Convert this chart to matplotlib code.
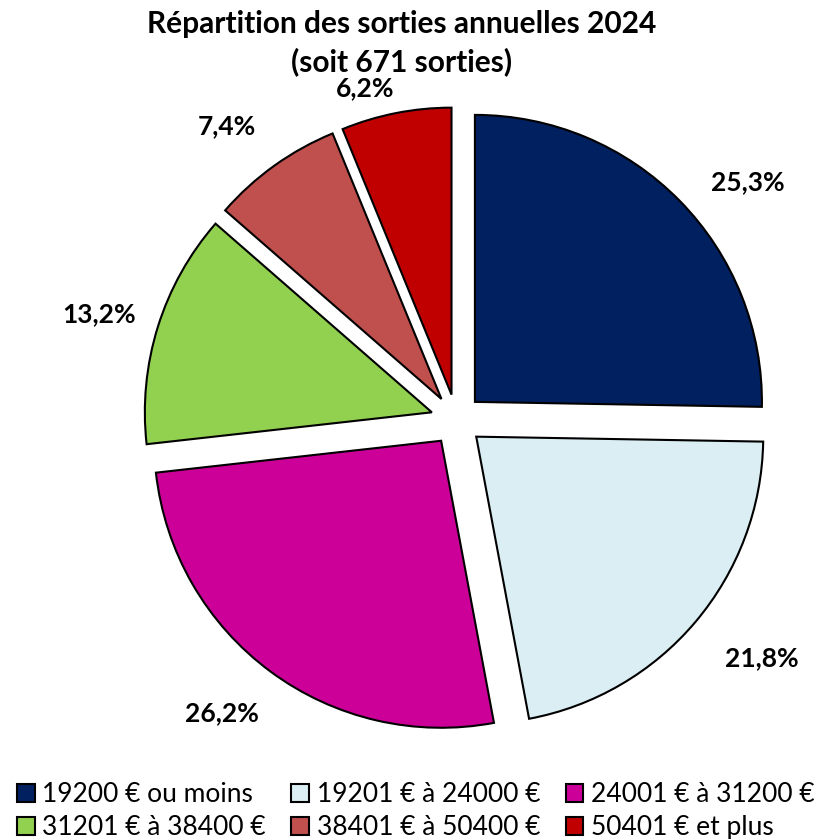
import matplotlib
matplotlib.use("Agg")
import matplotlib.pyplot as plt
import numpy as np
from matplotlib.patches import Patch

plt.rcParams["font.family"] = ["Lato", "DejaVu Sans"]

# data
CATEGORIES = [
    "19200 € ou moins",
    "19201 € à 24000 €",
    "24001 € à 31200 €",
    "31201 € à 38400 €",
    "38401 € à 50400 €",
    "50401 € et plus",
]
SHARES = [25.3, 21.8, 26.2, 13.2, 7.4, 6.2]
COLORS = ["#002060", "#DAEEF3", "#CC0099", "#92D050", "#C0504D", "#C00000"]
TITLE = "Répartition des sorties annuelles 2024\n(soit 671 sorties)"

# label placement tweaks (radius from slice centre, angle shift in degrees)
LABEL_DIST = [1.22, 1.26, 1.22, 1.21, 1.21, 1.11]
LABEL_DANG = [-5.7, 2.4, -2.3, 0.9, 2.5, 4.6]

W, H = 825, 839
CX, CY, R = 456.5, 420.0, 287.0   # pie centre and radius, pixels
LIM = 1.3
EXPLODE = 0.09

fig = plt.figure(figsize=(W / 100, H / 100), dpi=100)
half = LIM * R
ax = fig.add_axes([(CX - half) / W, (H - CY - half) / H, 2 * half / W, 2 * half / H])

wedges, texts = ax.pie(
    SHARES,
    colors=COLORS,
    startangle=90,
    counterclock=False,
    explode=[EXPLODE] * len(SHARES),
    wedgeprops=dict(edgecolor="black", linewidth=1.5),
)
ax.set_xlim(-LIM, LIM)
ax.set_ylim(-LIM, LIM)
ax.set_aspect("equal")
ax.axis("off")

for w, share, dist, dang in zip(wedges, SHARES, LABEL_DIST, LABEL_DANG):
    mid = np.deg2rad((w.theta1 + w.theta2) / 2 + dang)
    cx, cy = w.center
    ax.text(cx + dist * np.cos(mid), cy + dist * np.sin(mid),
            f"{share:.1f}%".replace(".", ","), ha="center", va="center",
            fontsize=19, fontweight="bold")

fig.text(0.4867, 0.988, TITLE, ha="center", va="top", fontsize=21.5,
         fontweight="bold", linespacing=1.38)

# legend reads row-wise in the reference; matplotlib fills columns first
order = [0, 3, 1, 4, 2, 5]
handles = [Patch(facecolor=COLORS[i], edgecolor="black", linewidth=1.5) for i in order]
labels = [CATEGORIES[i] for i in order]
fig.legend(handles, labels, loc="center", bbox_to_anchor=(0.504, 0.033),
           ncol=3, frameon=False, fontsize=19, handlelength=0.68,
           handleheight=0.68, handletextpad=0.3, columnspacing=0.95,
           labelspacing=0.3, borderpad=0.0)

fig.savefig("out.png", dpi=100)
